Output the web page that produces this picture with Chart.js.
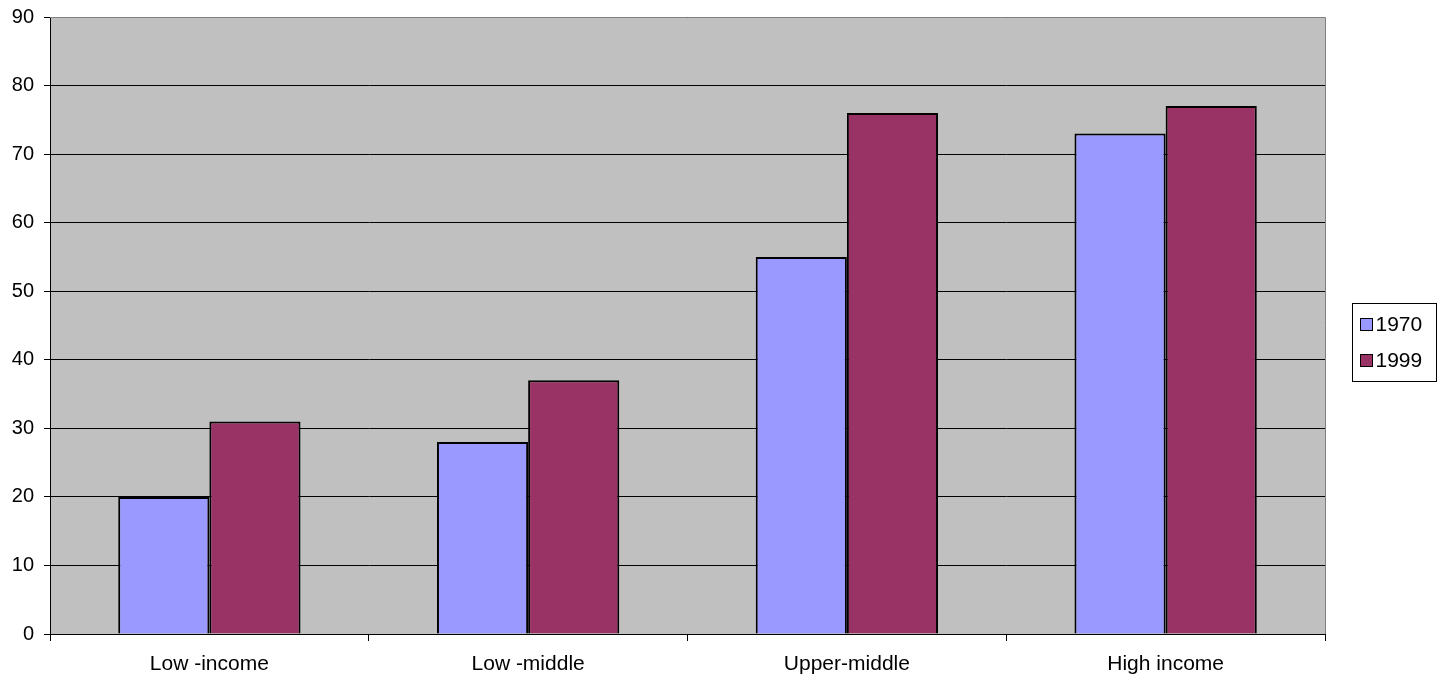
<!DOCTYPE html>
<html>
<head>
<meta charset="utf-8">
<script src="https://cdn.jsdelivr.net/npm/chart.js@4"></script>
<style>
  html, body { margin: 0; padding: 0; background: #fff; }
  #wrap { width: 1449px; height: 683px; position: relative; }
</style>
</head>
<body>
<div id="wrap"><canvas id="chart"></canvas></div>
<script>
// data
const categories = ['Low -income', 'Low -middle', 'Upper-middle', 'High income'];
const series1970 = [20, 28, 55, 73];
const series1999 = [31, 37, 76, 77];
const seriesLabels = ['1970', '1999'];
const yTicks = [0, 10, 20, 30, 40, 50, 60, 70, 80, 90];

const FONT = 'Liberation Sans, Arial, sans-serif';

// grey plot background with a thin grey frame
const plotBg = {
  id: 'plotBg',
  beforeDraw(chart) {
    const { ctx, chartArea: a } = chart;
    ctx.save();
    ctx.fillStyle = '#C0C0C0';
    ctx.fillRect(a.left, a.top, a.right - a.left, a.bottom - a.top);
    ctx.restore();
  },
  afterDraw(chart) {
    const { ctx, chartArea: a } = chart;
    ctx.save();
    ctx.strokeStyle = '#808080';
    ctx.lineWidth = 1;
    ctx.beginPath();
    ctx.moveTo(a.left, a.top + 0.5);
    ctx.lineTo(a.right + 0.5, a.top + 0.5);
    ctx.lineTo(a.right + 0.5, a.bottom);
    ctx.stroke();
    ctx.restore();
  }
};

// boxed legend on the right, like the original
const boxLegend = {
  id: 'boxLegend',
  afterDraw(chart) {
    const { ctx } = chart;
    const x = 1352.5, y = 303.5, w = 84, h = 78;
    ctx.save();
    ctx.fillStyle = '#fff';
    ctx.fillRect(x, y, w, h);
    ctx.strokeStyle = '#000';
    ctx.lineWidth = 1;
    ctx.strokeRect(x, y, w, h);
    ctx.font = '21px ' + FONT;
    ctx.textBaseline = 'middle';
    chart.data.datasets.forEach((ds, i) => {
      const cy = y + 21 + i * 36;
      ctx.fillStyle = ds.backgroundColor;
      ctx.fillRect(x + 8, cy - 6, 12, 12);
      ctx.strokeStyle = '#000';
      ctx.strokeRect(x + 8, cy - 6, 12, 12);
      ctx.fillStyle = '#000';
      ctx.fillText(ds.label, x + 23, cy + 1);
    });
    ctx.restore();
  }
};

new Chart(document.getElementById('chart'), {
  type: 'bar',
  data: {
    labels: categories,
    datasets: [
      {
        label: seriesLabels[0],
        data: series1970,
        backgroundColor: '#9999FF',
        borderColor: '#000',
        borderWidth: 2
      },
      {
        label: seriesLabels[1],
        data: series1999,
        backgroundColor: '#993366',
        borderColor: '#000',
        borderWidth: 2
      }
    ]
  },
  options: {
    responsive: true,
    maintainAspectRatio: false,
    animation: false,
    layout: { padding: { top: 17, right: 124, left: 0, bottom: 0 } },
    datasets: {
      bar: { categoryPercentage: 0.572, barPercentage: 1 }
    },
    plugins: {
      legend: { display: false },
      tooltip: { enabled: false }
    },
    scales: {
      x: {
        afterFit(scale) {
          scale.height = 49;
          scale.paddingLeft = 0;
          scale.paddingRight = 0;
        },
        grid: {
          offset: true,
          drawOnChartArea: false,
          drawTicks: true,
          tickLength: 7,
          color: '#000'
        },
        border: { color: '#000', width: 1 },
        ticks: {
          color: '#000',
          padding: 11,
          font: { family: FONT, size: 21 }
        }
      },
      y: {
        min: 0,
        max: 90,
        afterFit(scale) {
          scale.width = 50;
          scale.paddingTop = 0;
          scale.paddingBottom = 0;
        },
        afterBuildTicks(scale) { scale.ticks = yTicks.map(v => ({ value: v })); },
        grid: {
          color: '#000',
          lineWidth: 1,
          tickLength: 6
        },
        border: { color: '#000', width: 1 },
        ticks: {
          color: '#000',
          padding: 10,
          font: { family: FONT, size: 20 }
        }
      }
    }
  },
  plugins: [plotBg, boxLegend]
});
</script>
</body>
</html>
